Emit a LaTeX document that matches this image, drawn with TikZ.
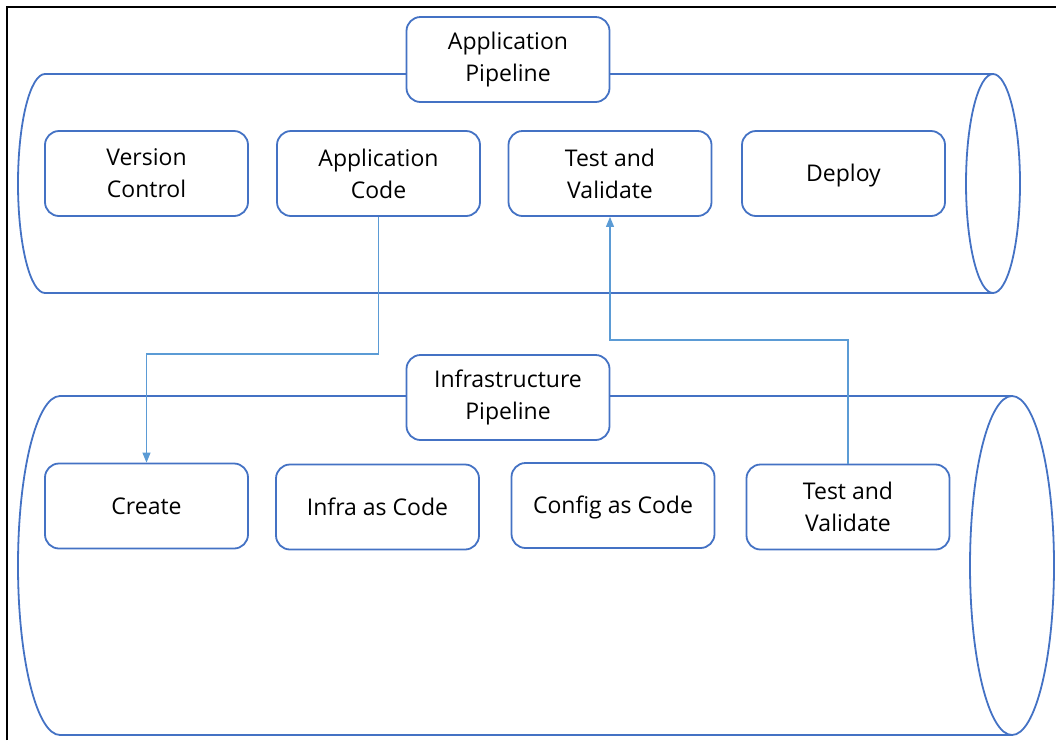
\documentclass[tikz,border=0pt]{standalone}
\usepackage{fontspec}
\setmainfont{Open Sans}
\usetikzlibrary{arrows.meta}
\definecolor{boxblue}{HTML}{4472C4}
\definecolor{linkblue}{HTML}{5B9BD5}

\begin{document}
\begin{tikzpicture}[x=1pt, y=-1pt,
        stage box/.style={draw=boxblue, line width=1.8pt, fill=white, rounded corners=14pt,
            minimum width=203pt, minimum height=85pt, align=center,
            font=\fontsize{23}{32}\selectfont, inner sep=0pt},
        one line/.style={text height=17pt, text depth=1pt},
        pipe line/.style={draw=boxblue, line width=1.8pt},
        flow arrow/.style={draw=linkblue, line width=1.1pt, -{Triangle[length=10pt, width=8pt]}},
    ]
        \useasboundingbox (0,0) rectangle (1056,740);
        % frame
        \draw[black, line width=2pt] (7,740) -- (7,7) -- (1056,7);

        % application pipe (cylinder)
        \draw[pipe line] (993,74) -- (45,74) arc[start angle=90, end angle=270, x radius=27pt, y radius=109.5pt] -- (993,293);
        \draw[pipe line] (993,183.5) ellipse (27pt and 109.5pt);
        % infrastructure pipe (cylinder)
        \draw[pipe line] (1012,396) -- (60,396) arc[start angle=90, end angle=270, x radius=42pt, y radius=169.5pt] -- (1012,735);
        \draw[pipe line] (1012,565.5) ellipse (42pt and 169.5pt);

        % pipeline labels
        \node[stage box] (apppipe) at (508,59.5) {Application\\Pipeline};
        \node[stage box] (infrapipe) at (508,397.5) {Infrastructure\\Pipeline};

        % application stages
        \foreach \name/\x/\txt in {vcs/146.5/Version\\Control, appcode/378.5/Application\\Code,
                                  apptest/610/Test and\\Validate} {
            \node[stage box] (\name) at (\x,173.5) {\txt};
        }
        \node[stage box, one line] (deploy) at (843.5,173.5) {Deploy};
        % infrastructure stages
        \foreach \name/\x/\y/\txt in {create/146.5/506/Create, iac/377.5/507/Infra as Code,
                                     cac/613/505.5/Config as Code} {
            \node[stage box, one line] (\name) at (\x,\y) {\txt};
        }
        \node[stage box] (infratest) at (848,507) {Test and\\Validate};

        % links between the pipelines
        \draw[flow arrow] (appcode.south) -- (appcode.south |- 0,354) -| (create.north);
        \draw[flow arrow] (infratest.north) -- (infratest.north |- 0,340) -| (apptest.south);
    \end{tikzpicture}
\end{document}
